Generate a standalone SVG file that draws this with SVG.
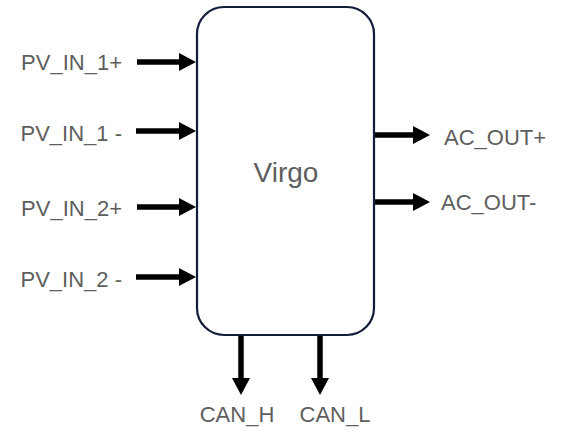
<svg xmlns="http://www.w3.org/2000/svg" width="566" height="435" viewBox="0 0 566 435">
  <style>
    .lbl { font-family: "Liberation Sans", Arial, sans-serif; font-size: 22px; fill: #5e5e5e; }
    .title { font-family: "Liberation Sans", Arial, sans-serif; font-size: 28px; fill: #5e5e5e; }
    .box { fill: #ffffff; stroke: #141c3c; stroke-width: 2.2; }
    .conn { stroke: #000000; stroke-width: 5.5; fill: none; marker-end: url(#head); }
  </style>
  <defs>
    <marker id="head" markerUnits="userSpaceOnUse" markerWidth="18" markerHeight="19" refX="0" refY="9" orient="auto" viewBox="0 0 18 19">
      <path d="M0,0 L17,9 L0,18 Z" fill="#000000"/>
    </marker>
  </defs>
  <rect width="566" height="435" fill="#ffffff"/>

  <g id="connectors">
    <line class="conn" x1="137" y1="62" x2="179" y2="62"/>
    <line class="conn" x1="136" y1="131" x2="179" y2="131"/>
    <line class="conn" x1="137" y1="207" x2="179" y2="207"/>
    <line class="conn" x1="136" y1="277" x2="179" y2="277"/>
    <line class="conn" x1="374" y1="135" x2="413" y2="135"/>
    <line class="conn" x1="374" y1="202" x2="413" y2="202"/>
    <line class="conn" x1="241" y1="336" x2="241" y2="378"/>
    <line class="conn" x1="320" y1="336" x2="320" y2="378"/>
  </g>

  <g id="virgo">
    <rect class="box" x="197" y="7" width="177" height="328" rx="27" ry="27"/>
    <text class="title" x="286" y="182" text-anchor="middle">Virgo</text>
  </g>

  <g id="pv_in_1_plus"><text class="lbl" x="122" y="70" text-anchor="end">PV_IN_1+</text></g>
  <g id="pv_in_1_minus"><text class="lbl" x="122" y="141" text-anchor="end">PV_IN_1 -</text></g>
  <g id="pv_in_2_plus"><text class="lbl" x="122" y="216" text-anchor="end">PV_IN_2+</text></g>
  <g id="pv_in_2_minus"><text class="lbl" x="122" y="287" text-anchor="end">PV_IN_2 -</text></g>
  <g id="ac_out_plus"><text class="lbl" x="444" y="145">AC_OUT+</text></g>
  <g id="ac_out_minus"><text class="lbl" x="441" y="210">AC_OUT-</text></g>
  <g id="can_h"><text class="lbl" x="237" y="422" text-anchor="middle">CAN_H</text></g>
  <g id="can_l"><text class="lbl" x="335" y="422" text-anchor="middle">CAN_L</text></g>
</svg>
